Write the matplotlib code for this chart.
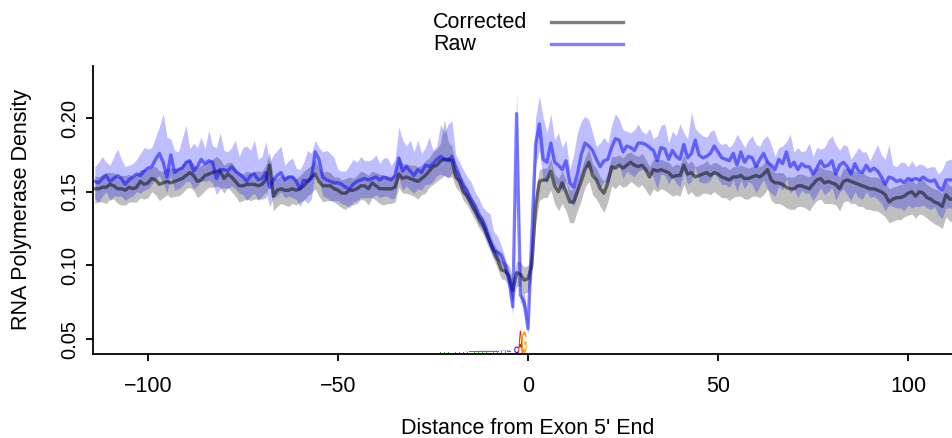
import numpy as np
import matplotlib
matplotlib.use('Agg')
import matplotlib.pyplot as plt
from matplotlib.lines import Line2D
from matplotlib.textpath import TextPath
from matplotlib.patches import PathPatch
from matplotlib.font_manager import FontProperties
import matplotlib.transforms as mtransforms

plt.rcParams['font.family'] = ['Liberation Sans', 'DejaVu Sans']

# distance from exon 5' end, one value per nucleotide
position = np.arange(-114, 113)

# all densities below are x1000
raw_density = [
    157, 156, 159, 161, 157, 159, 161, 159, 155, 158,
    160, 162, 161, 164, 166, 167, 172, 176, 170, 160,
    175, 163, 165, 166, 170, 171, 164, 167, 172, 169,
    171, 170, 159, 165, 165, 164, 167, 164, 162, 160,
    157, 161, 162, 158, 159, 163, 153, 158, 161, 163,
    158, 160, 160, 157, 152, 158, 157, 159, 177, 172,
    160, 158, 157, 156, 156, 155, 153, 152, 155, 157,
    158, 159, 158, 159, 160, 158, 160, 159, 158, 161,
    173, 164, 167, 164, 161, 165, 163, 168, 167, 169,
    172, 174, 172, 171, 174, 167, 160, 155, 150, 145,
    141, 134, 131, 124, 116, 110, 109, 107, 100, 90,
    72, 203, 80, 75, 57, 120, 182, 196, 172, 170,
    183, 170, 168, 165, 171, 156, 153, 162, 175, 183,
    181, 178, 172, 167, 171, 172, 180, 186, 185, 177,
    181, 180, 178, 183, 183, 182, 180, 178, 171, 180,
    179, 172, 178, 174, 172, 182, 173, 176, 185, 175,
    173, 174, 176, 181, 177, 173, 172, 171, 176, 168,
    177, 170, 174, 173, 167, 172, 176, 170, 168, 165,
    172, 169, 177, 167, 170, 165, 169, 167, 167, 162,
    166, 171, 167, 168, 171, 162, 168, 170, 167, 162,
    169, 164, 163, 168, 164, 166, 164, 160, 155, 160,
    159, 157, 158, 156, 159, 158, 159, 158, 160, 158,
    157, 158, 153, 151, 158, 158, 158]

raw_err_hi = [
    10, 14, 15, 9, 11, 15, 18, 13, 12, 10,
    9, 10, 15, 16, 13, 13, 15, 18, 33, 27,
    11, 15, 12, 20, 25, 8, 19, 13, 15, 10,
    21, 11, 21, 25, 13, 13, 13, 21, 12, 20,
    24, 17,
    23, 14, 15, 21, 17, 17, 17, 18, 10, 11,
    13, 9, 13, 12, 21, 17, 8, 8, 17, 20,
    19, 17, 9, 9, 11, 16, 17, 13, 16, 12,
    13, 13, 15, 11, 13, 14, 10, 11, 21, 21,
    14,
    21, 16, 20, 13, 12, 20, 9, 9, 22, 18,
    25, 24, 8, 10, 10, 10, 12, 9, 12, 9,
    13, 19, 13, 11, 6, 5, 6, 8, 16, 5,
    7, 7,
    10,
    18, 19, 28, 20, 20, 15, 22,
    15, 14, 9, 22, 28, 23, 18, 18, 12, 9,
    16, 16, 11, 15, 17, 14, 15, 10, 10, 14,
    13, 8, 7, 13, 8, 17, 15, 17, 11, 13,
    14, 24, 8, 13, 28, 8, 15, 15, 13, 15,
    11, 7, 9, 11, 9, 7, 21, 8, 10, 11,
    15, 15, 9, 10, 18, 14, 9, 8, 12, 7,
    22, 7, 15, 8, 11, 16, 12, 14, 8, 13,
    17, 17, 20, 10, 12, 14, 10, 7, 16, 14,
    9, 7, 11, 18, 15, 17, 22, 9, 10, 12,
    14, 8, 13, 8, 11, 8, 8, 10, 9, 9,
    14, 13, 14, 14]

raw_err_lo = [
    12, 13, 12, 11, 13, 12, 14, 12, 11, 12,
    13, 12, 12, 13, 14, 12, 13, 15, 14, 11,
    14, 12, 13, 12, 13, 14, 12, 13, 14, 12,
    13, 14, 11, 13, 12, 12, 13, 12, 13, 12,
    13, 14, 13, 14, 12, 13, 13, 12, 14, 13,
    12, 13, 14, 12, 12, 13, 15, 14, 13, 12,
    13, 12, 13, 12, 12, 13, 12, 13, 12, 13,
    12, 13, 12, 13, 12, 12, 13, 12, 13, 15,
    14, 13, 13,
    13, 12, 13, 12, 13, 12, 12, 11, 12, 11, 12, 11,
    8, 7, 7, 6, 6, 6, 6, 6, 6, 5, 5, 6, 6, 5, 6,
    6, 12, 5, 5, 4, 8,
    14, 18, 14, 14, 15, 14, 14, 15, 13, 12,
    13, 14, 15, 16, 15, 15, 14, 14, 14,
    16, 17, 18, 17, 18, 17, 18, 18, 19, 18,
    18, 17, 18, 19, 18, 18, 17, 18, 18, 19,
    18, 18, 19, 18, 18, 17, 18, 18, 18, 18,
    18, 17, 18, 18, 18, 19, 18, 17, 18, 18,
    18, 18, 18, 19, 18, 18, 18, 18, 18, 18,
    19, 18, 18, 18, 18, 18, 18, 19, 18, 18,
    18, 18, 18, 19, 18, 19, 18, 18, 18, 18,
    19, 19, 18, 18, 19, 19, 18, 19, 19, 18,
    19, 19, 18, 19, 19, 19, 18, 19, 19, 19,
    19, 19]

corrected_density = [
    152, 152, 153, 153, 155, 154, 152, 152, 151, 153,
    152, 153, 157, 155, 156, 159, 158, 155, 156, 157,
    156, 157, 158, 159, 161, 163, 161, 157, 158, 161,
    162, 163, 164, 164, 159, 162, 160, 157, 154, 154,
    155, 155, 155, 154, 155, 158, 168, 147, 151, 152,
    151, 151, 152, 151, 152, 154, 157, 160, 162, 157,
    154, 154, 154, 152, 151, 149, 149, 151, 151, 152,
    154, 154, 152, 156, 154, 152, 152, 152, 152, 153,
    162, 159, 160, 159, 158, 157, 159, 161, 164, 167,
    168, 171, 172, 172, 171, 160, 157, 150, 147, 142,
    137, 132, 128, 122, 116, 110, 104, 97, 96, 93,
    83, 95, 94, 90, 91, 100, 140, 157, 158, 158,
    164, 154, 150, 156, 150, 143, 143, 150, 157, 165,
    170, 161, 158, 152, 149, 156, 167, 166, 168, 166,
    168, 170, 168, 167, 168, 165, 160, 165, 164, 165,
    164, 163, 160, 161, 161, 168, 162, 163, 160, 161,
    162, 163, 161, 163, 162, 160, 159, 158, 160, 160,
    161, 159, 159, 160, 161, 160, 162, 165, 158, 156,
    156, 155, 153, 152, 152, 154, 154, 153, 152, 155,
    158, 159, 156, 157, 156, 155, 152, 157, 158, 157,
    156, 155, 154, 153, 152, 152, 151, 150, 148, 143,
    145, 146, 146, 147, 149, 150, 147, 150, 149, 146,
    145, 143, 142, 140, 148, 145, 145]

corrected_err_hi = [
    9, 8, 9, 10, 8, 9, 8, 9, 10, 9,
    8, 9, 8, 10, 9, 8, 9, 9, 8, 9,
    10, 9, 8, 9, 10, 9, 8, 9, 10, 8,
    9, 9, 10, 8, 9, 8, 10, 9, 9, 8,
    9, 8, 9, 10, 9, 10, 9, 12, 8, 9,
    9, 10, 9, 8, 9, 10, 9, 8, 10, 9,
    9, 10, 9, 8, 9, 9, 10, 9, 8, 9,
    10, 9, 9, 8, 9, 10, 9, 9, 8, 9,
    12, 10, 9,
    9, 10, 10, 9, 10, 9, 10, 11, 12, 27, 12, 10,
    6, 6, 5, 6, 5, 5, 6, 5, 6, 5, 5, 6, 6, 6, 7,
    8, 8, 8, 9, 9, 10,
    10, 8, 8, 8, 8, 8, 9, 8, 8, 8,
    9, 8, 8, 8, 9, 8, 8, 8, 8,
    7, 7, 8, 7, 7, 8, 7, 7, 7, 8,
    7, 7, 7, 8, 7, 7, 7, 7, 8, 7,
    7, 7, 8, 7, 7, 7, 8, 7, 7, 7,
    7, 8, 7, 7, 7, 7, 8, 7, 7, 8,
    7, 7, 7, 8, 7, 7, 8, 7, 8, 8,
    8, 8, 8, 8, 8, 8, 8, 9, 8, 8,
    8, 8, 9, 8, 8, 8, 8, 9, 8, 8,
    8, 9, 8, 8, 9, 8, 8, 9, 8, 9,
    9, 8, 9, 9, 9, 8, 9, 9, 9, 9,
    9, 9]

corrected_err_lo = [
    10, 9, 10, 11, 10, 9, 10, 11, 10, 10,
    9, 10, 11, 10, 10, 9, 10, 11, 10, 9,
    10, 10, 11, 10, 9, 10, 10, 11, 10, 10,
    9, 10, 10, 11, 10, 9, 10, 10, 11, 10,
    10, 11, 10, 9, 10, 12, 10, 10, 11, 10,
    10, 11, 10, 10, 9, 10, 10, 11, 10, 10,
    11, 10, 10, 9, 10, 10, 11, 10, 10, 10,
    9, 10, 11, 10, 10, 10, 11, 10, 10, 10,
    9, 10, 11,
    11, 11, 12, 11, 12, 11, 12, 11, 12, 11, 12, 11,
    7, 7, 6, 6, 6, 6, 6, 6, 6, 6, 6, 6, 6, 6, 7,
    8, 9, 8, 9, 9, 9,
    12, 13, 12, 12, 13, 12, 13, 14, 13, 14,
    14, 13, 13, 12, 13, 13, 13, 12, 13,
    13, 13, 14, 13, 13, 14, 13, 13, 14, 13,
    14, 13, 13, 14, 13, 13, 14, 13, 13, 14,
    13, 14, 13, 13, 14, 13, 14, 13, 13, 14,
    14, 13, 14, 14, 13, 14, 14, 14, 13, 14,
    14, 14, 13, 14, 14, 14, 14, 14, 14, 14,
    14, 14, 14, 15, 14, 14, 14, 14, 15, 14,
    14, 15, 14, 14, 15, 14, 15, 14, 15, 14,
    15, 14, 15, 15, 14, 15, 15, 15, 14, 15,
    15, 15, 15, 15, 14, 15, 15, 15, 15, 15,
    15, 15]

# sequence logo at the splice site
logo_pos = [-3, -2, -1]
logo_letter = ['C', 'A', 'G']
logo_height = [4.5, 15.2, 14.8]
logo_color = ['#2222dd', '#e8231f', '#f5a300']
tiny_pos = [-23, -22, -21, -20, -19, -18, -17, -16, -15, -14,
            -13, -12, -11, -10, -9, -8, -7, -6, -5]
tiny_t_height = [0.5, 0.5, 0.6, 0.6, 0.6, 0.7, 0.8, 1.0, 1.1, 1.1,
                 1.2, 1.2, 1.3, 1.2, 1.3, 1.3, 1.4, 1.5, 1.2]
tiny_c_height = [0, 0, 0, 0, 0, 0, 0, 0.2, 0.2, 0.3,
                 0.3, 0.3, 0.3, 0.3, 0.3, 0.4, 0.4, 0.5, 0.8]


def scaled(values):
    return np.array(values, dtype=float) / 1000.0


raw = scaled(raw_density)
raw_hi = raw + scaled(raw_err_hi)
raw_lo = raw - scaled(raw_err_lo)
cor = scaled(corrected_density)
cor_hi = cor + scaled(corrected_err_hi)
cor_lo = cor - scaled(corrected_err_lo)

logo_font = FontProperties(family='Liberation Sans', weight='bold')


def draw_letter(ax, ch, x, y0, h, color, width=1.0):
    tp = TextPath((0, 0), ch, size=1, prop=logo_font)
    bb = tp.get_extents()
    tr = (mtransforms.Affine2D().translate(-bb.x0, -bb.y0)
          .scale(width / bb.width, h / bb.height).translate(x - width / 2, y0))
    ax.add_patch(PathPatch(tr.transform_path(tp), fc=color, ec='none',
                           clip_on=False, zorder=5))


W, H = 953, 438
fig = plt.figure(figsize=(W / 100, H / 100), dpi=100)
ax = fig.add_axes([93 / W, (H - 354) / H, 860 / W, 288 / H])

ax.fill_between(position, cor_lo, cor_hi, color='black', alpha=0.25, lw=0)
ax.fill_between(position, raw_lo, raw_hi, color='blue', alpha=0.25, lw=0)
ax.plot(position, cor, color='black', alpha=0.5, lw=2.4)
ax.plot(position, raw, color='blue', alpha=0.5, lw=2.4)

base = 0.0405
for p, ch, h, c in zip(logo_pos, logo_letter, logo_height, logo_color):
    draw_letter(ax, ch, p, base, h / 1000, c, width=1.25)
for p, ht, hc in zip(tiny_pos, tiny_t_height, tiny_c_height):
    draw_letter(ax, 'T', p, base, ht / 1000, '#33aa33')
    if hc > 0:
        draw_letter(ax, 'C', p, base + ht / 1000, hc / 1000, '#3333dd')

ax.set_xlim(-114.47, 111.84)
ax.set_ylim(0.0399, 0.2353)
for s in ['top', 'right']:
    ax.spines[s].set_visible(False)
for s in ['left', 'bottom']:
    ax.spines[s].set_linewidth(1.3)

ax.set_xticks([-100, -50, 0, 50, 100])
ax.set_xticklabels(['\u2212100', '\u221250', '0', '50', '100'], fontsize=15.5)
ax.set_yticks([0.05, 0.10, 0.15, 0.20])
ax.set_yticklabels(['0.05', '0.10', '0.15', '0.20'], fontsize=14.5,
                   rotation=90, va='center')
ax.tick_params(axis='both', direction='out', length=5, width=1.3)
ax.tick_params(axis='x', pad=11)
ax.tick_params(axis='y', pad=5)

fig.text(527.5 / W, 1 - 428 / H, "Distance from Exon 5' End", fontsize=15.5,
         ha='center', va='center')
fig.text(22 / W, 1 - 210 / H, 'RNA Polymerase Density', fontsize=15.5,
         rotation=90, ha='center', va='center')

# legend, R style: labels left, line samples right
legend_rows = [('Corrected', 'black', 22), ('Raw', 'blue', 44)]
for label, col, yy in legend_rows:
    fig.text(433 / W, 1 - yy / H, label, fontsize=15.5, ha='left', va='center')
    fig.add_artist(Line2D([551 / W, 623 / W], [1 - yy / H, 1 - yy / H],
                          color=col, alpha=0.5, lw=2.4,
                          transform=fig.transFigure))

fig.savefig('out.png', dpi=100)
